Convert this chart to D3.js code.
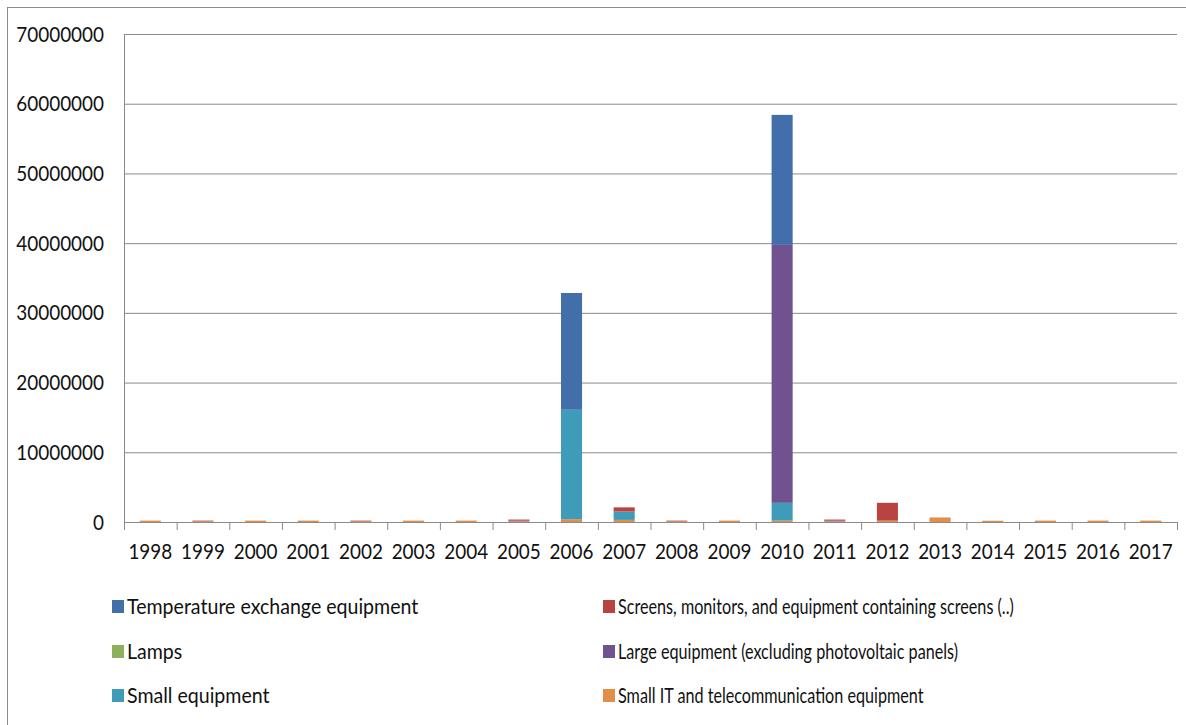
<!DOCTYPE html>
<html>
<head>
<meta charset="utf-8">
<script src="https://cdn.jsdelivr.net/npm/d3@7"></script>
<style>
  body { margin: 0; background: #fff; }
  svg text { font-family: Lato, "Open Sans", sans-serif; fill: #111; }
</style>
</head>
<body>
<svg></svg>
<script>
// données
const years = ["1998","1999","2000","2001","2002","2003","2004","2005","2006","2007",
               "2008","2009","2010","2011","2012","2013","2014","2015","2016","2017"];
const series = ["Temperature exchange equipment", "Screens, monitors, and equipment containing screens (..)",
                "Lamps", "Large equipment (excluding photovoltaic panels)",
                "Small equipment", "Small IT and telecommunication equipment"];
// ordre d'empilement (bas -> haut)
const stackOrder = ["smallIT", "lamps", "small", "large", "screens", "temp"];
const smallIT = [200000,150000,200000,200000,150000,200000,200000,100000,400000,300000,
                 150000,200000,200000,100000,200000,650000,180000,200000,200000,200000];
const lamps   = [0,0,0,0,0,0,0,0,0,0, 0,0,0,0,0,0,0,0,0,0];
const small   = [0,0,0,0,0,0,0,0,15700000,1200000, 0,0,2550000,0,0,0,0,0,0,0];
const large   = [0,50000,0,0,50000,0,0,100000,0,0, 50000,0,37000000,100000,0,0,0,0,0,0];
const screens = [0,0,0,0,0,0,0,150000,0,600000, 0,0,0,150000,2550000,0,0,0,0,0];
const temp    = [0,0,0,0,0,0,0,0,16750000,0, 0,0,18650000,0,0,0,0,0,0,0];
const yTicks = [0,10000000,20000000,30000000,40000000,50000000,60000000,70000000];

const colors = {
  temp: "#426EAA", screens: "#B94341", lamps: "#8DB05A",
  large: "#705291", small: "#3F9BBA", smallIT: "#E28D48"
};
const keys = ["temp","screens","lamps","large","small","smallIT"];
const valeurs = { temp, screens, lamps, large, small, smallIT };

const table = years.map((y, i) => {
  const row = { year: y };
  stackOrder.forEach(k => row[k] = valeurs[k][i]);
  return row;
});

const width = 1186, height = 725;
const svg = d3.select("svg").attr("width", width).attr("height", height);

// cadre
svg.append("rect")
  .attr("x", 7.5).attr("y", 7.5)
  .attr("width", 1300).attr("height", 800)
  .attr("fill", "none").attr("stroke", "#8c8c8c");

const mLeft = 124, mRight = 1177, mTop = 34, mBottom = 522;
const fs = 22, squeeze = 0.86; // texte étroit comme dans l'original

const x = d3.scaleBand().domain(years).range([mLeft, mRight]).paddingInner(0.6).paddingOuter(0.3);
const xb = d3.scaleBand().domain(years).range([mLeft, mRight]);
const y = d3.scaleLinear().domain([0, 70000000]).range([mBottom, mTop]);

// grille + axe y
const yAxis = svg.append("g")
  .attr("transform", `translate(${mLeft},0)`)
  .call(d3.axisLeft(y).tickValues(yTicks).tickSize(8).tickFormat(d3.format("d")));
yAxis.select(".domain").remove();
yAxis.selectAll(".tick line").attr("stroke", "#8a8a8a").attr("x2", mRight - mLeft);
yAxis.selectAll(".tick text")
  .attr("x", 0)
  .attr("transform", `translate(-20,0) scale(${squeeze},1)`)
  .attr("font-size", fs).attr("fill", "#111");
svg.append("line")
  .attr("x1", mLeft + 0.5).attr("x2", mLeft + 0.5)
  .attr("y1", mTop).attr("y2", mBottom)
  .attr("stroke", "#8a8a8a");

// barres empilées
const stack = d3.stack().keys(stackOrder)(table);
svg.append("g").selectAll("g")
  .data(stack)
  .join("g")
  .attr("fill", d => colors[d.key])
  .selectAll("rect")
  .data(d => d)
  .join("rect")
  .attr("x", d => x(d.data.year))
  .attr("width", x.bandwidth())
  .attr("y", d => y(d[1]))
  .attr("height", d => Math.max(0, y(d[0]) - y(d[1])));

// axe x
const xAxis = svg.append("g")
  .attr("transform", `translate(0,${mBottom})`)
  .call(d3.axisBottom(xb).tickSize(0).tickPadding(21));
xAxis.select(".domain").attr("stroke", "#8a8a8a").attr("d", `M${mLeft},0.5H${mRight}`);
xAxis.selectAll(".tick text")
  .attr("transform", `scale(${squeeze},1)`)
  .attr("font-size", fs).attr("fill", "#111");
svg.append("g").selectAll("line")
  .data(d3.range(years.length + 1))
  .join("line")
  .attr("x1", i => mLeft + i * xb.step() + 0.5)
  .attr("x2", i => mLeft + i * xb.step() + 0.5)
  .attr("y1", mBottom).attr("y2", mBottom + 8)
  .attr("stroke", "#8a8a8a");

// légende
const legend = svg.append("g");
const legPos = [[112, 606], [603, 606], [112, 651], [603, 651], [112, 695], [603, 695]];
const legSqueeze = [0.89, 0.735];
keys.forEach((k, i) => {
  const g = legend.append("g").attr("transform", `translate(${legPos[i][0]},${legPos[i][1]})`);
  g.append("rect").attr("x", 0).attr("y", -6).attr("width", 12).attr("height", 13).attr("fill", colors[k]);
  g.append("text")
    .attr("transform", `translate(15,0) scale(${legSqueeze[i % 2]},1)`)
    .attr("dy", "0.35em")
    .attr("font-size", fs).text(series[i]);
});
</script>
</body>
</html>
